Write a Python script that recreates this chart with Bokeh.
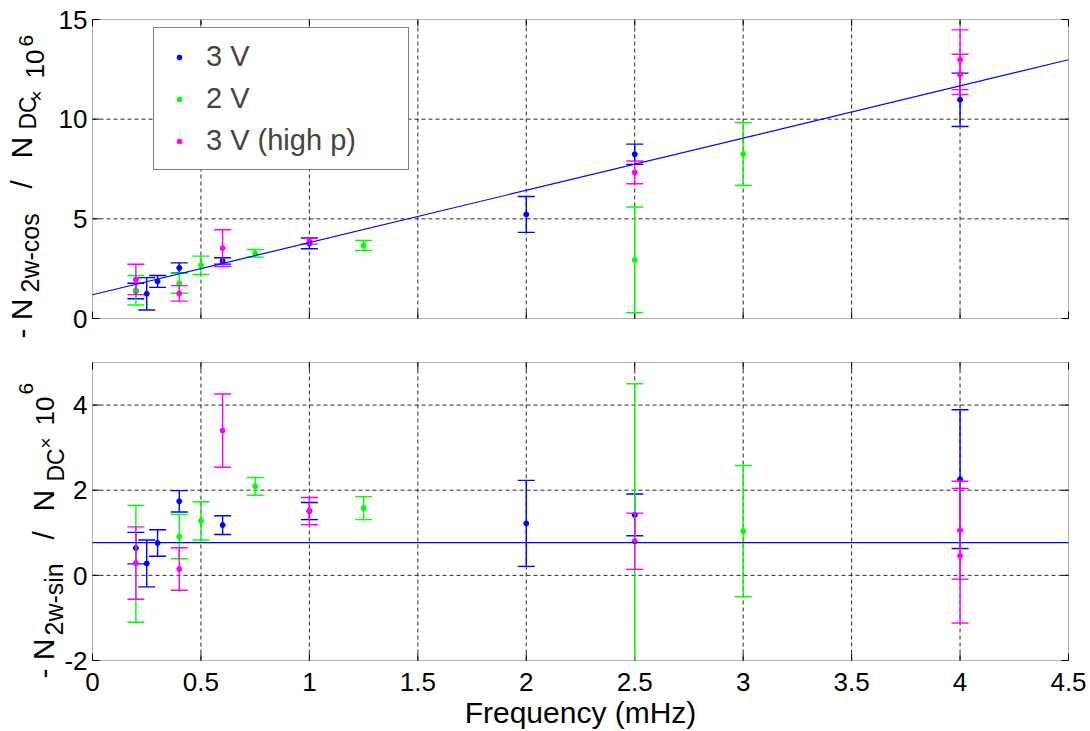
import math
from bokeh.plotting import figure
from bokeh.models import Range1d, Legend, LegendItem, BoxAnnotation
from bokeh.layouts import column
from bokeh.embed import file_html
from bokeh.resources import INLINE
from bokeh.core.properties import value

# ---------------- data ----------------
freq_3v = [0.2, 0.25, 0.3, 0.4, 0.6, 1.0, 2.0, 2.5, 4.0]
cos_3v = [1.38, 1.24, 1.86, 2.54, 2.89, 3.77, 5.22, 8.24, 10.97]
cos_err_3v = [0.39, 0.81, 0.30, 0.25, 0.16, 0.27, 0.90, 0.51, 1.34]
sin_3v = [0.64, 0.28, 0.76, 1.74, 1.18, 1.51, 1.22, 1.42, 2.26]
sin_err_3v = [0.37, 0.55, 0.31, 0.25, 0.22, 0.20, 1.01, 0.49, 1.63]

freq_2v = [0.2, 0.4, 0.5, 0.75, 1.25, 2.5, 3.0]
cos_2v = [1.42, 1.77, 2.67, 3.27, 3.66, 2.94, 8.25]
cos_err_2v = [0.74, 0.50, 0.46, 0.19, 0.25, 2.65, 1.58]
sin_2v = [0.27, 0.91, 1.28, 2.09, 1.58, 0.80, 1.04]
sin_err_2v = [1.37, 0.52, 0.45, 0.21, 0.27, 3.70, 1.54]

freq_hp = [0.2, 0.4, 0.6, 1.0, 2.5, 4.0, 4.0]
cos_hp = [1.96, 1.26, 3.53, 3.88, 7.33, 12.98, 12.25]
cos_err_hp = [0.76, 0.39, 0.92, 0.15, 0.57, 1.50, 1.01]
sin_hp = [0.29, 0.15, 3.40, 1.51, 0.80, 1.06, 0.46]
sin_err_hp = [0.85, 0.50, 0.86, 0.32, 0.66, 1.15, 1.58]

fit_x = [0.0, 4.5]
fit_cos = [1.19, 12.98]
fit_sin = [0.77, 0.77]

x_ticks = [0, 0.5, 1, 1.5, 2, 2.5, 3, 3.5, 4, 4.5]
x_tick_labels = ["0", "0.5", "1", "1.5", "2", "2.5", "3", "3.5", "4", "4.5"]
cos_ticks = [0, 5, 10, 15]
cos_tick_labels = ["0", "5", "10", "15"]
sin_ticks = [-2, 0, 2, 4]
sin_tick_labels = ["-2", "0", "2", "4"]
x_title = "Frequency (mHz)"

series_names = ["3 V", "2 V", "3 V (high p)"]
series_colors = ["#0000FF", "#00FF00", "#FF00FF"]

# ---------------- layout constants (pixels) ----------------
FONT = "Liberation Sans"
BL = 0.34                    # measured shift of the rendered alphabetic baseline (em)
W = 1090
FL, FR = 92, 1068            # frame left / right (page px)
XMIN, XMAX = 0.0, 4.5
XS = (FR - FL) / (XMAX - XMIN)

TOP_H, TOP_FT, TOP_FB = 340, 19, 318     # canvas height, frame top / bottom (local px)
BOT_H, BOT_FT, BOT_FB = 391, 22, 320
TOP_Y = (0.0, 15.0)
BOT_Y = (-2.0, 5.0)


def make_panel(h, ft, fb, yr):
    ys = (fb - ft) / (yr[1] - yr[0])
    p = figure(width=W, height=h,
               x_range=Range1d(XMIN - FL / XS, XMAX + (W - FR) / XS),
               y_range=Range1d(yr[0] - (h - fb) / ys, yr[1] + ft / ys),
               output_backend="svg", toolbar_location=None,
               x_axis_location=None, y_axis_location=None,
               min_border_left=0, min_border_right=0, min_border_top=0, min_border_bottom=0)
    p.outline_line_color = None
    p.xgrid.visible = False
    p.ygrid.visible = False
    p.background_fill_color = "white"
    p.border_fill_color = "white"
    return p, ys


def decorate(p, yr, yticks, ylabels):
    ymin, ymax = yr
    gx = [t for t in x_ticks if XMIN < t < XMAX]
    gy = [t for t in yticks if ymin < t < ymax]
    p.segment(x0=gx, y0=[ymin] * len(gx), x1=gx, y1=[ymax] * len(gx),
              line_color="black", line_dash="4 3", line_width=1, line_alpha=0.85)
    p.segment(x0=[XMIN] * len(gy), y0=gy, x1=[XMAX] * len(gy), y1=gy,
              line_color="black", line_dash="4 3", line_width=1, line_alpha=0.85)
    n, m = len(x_ticks), len(yticks)
    p.ray(x=x_ticks, y=[ymin] * n, length=7, length_units="screen", angle=math.pi / 2,
          line_color="black", line_width=1)
    p.ray(x=x_ticks, y=[ymax] * n, length=7, length_units="screen", angle=-math.pi / 2,
          line_color="black", line_width=1)
    p.ray(x=[XMIN] * m, y=yticks, length=7, length_units="screen", angle=0,
          line_color="black", line_width=1)
    p.ray(x=[XMAX] * m, y=yticks, length=7, length_units="screen", angle=math.pi,
          line_color="black", line_width=1)
    p.text(x=[XMIN] * m, y=yticks, text=ylabels, x_offset=-5, y_offset=9 - BL * 26,
           text_align="right", text_baseline="alphabetic",
           text_font=value(FONT), text_font_size="26px", text_color="black")
    p.add_layout(BoxAnnotation(left=XMIN, right=XMAX, bottom=ymin, top=ymax,
                               fill_color=None, line_color="black", line_width=1))


def draw_series(p, xs, ys, errs, color, ymin):
    lo = [max(y - e, ymin) for y, e in zip(ys, errs)]
    hi = [y + e for y, e in zip(ys, errs)]
    p.segment(x0=xs, y0=lo, x1=xs, y1=hi, line_color=color, line_width=1.4)
    lo_x = [x for x, y, e in zip(xs, ys, errs) if y - e >= ymin]
    lo_y = [y - e for y, e in zip(ys, errs) if y - e >= ymin]
    p.scatter(lo_x, lo_y, marker="dash", size=17, line_color=color, line_width=1.4)
    p.scatter(xs, hi, marker="dash", size=17, line_color=color, line_width=1.4)
    return p.scatter(xs, ys, marker="circle", size=5, fill_color=color, line_color=color)


def ylabel(p, pieces, fb_page, ymin, ys):
    for text, px, py, size in pieces:
        p.text(x=[(px - BL * size - FL) / XS], y=[ymin + (fb_page - py) / ys], text=[text],
               angle=math.pi / 2, text_align="left", text_baseline="alphabetic",
               text_font=value(FONT), text_font_size=f"{size}px", text_color="black")


# ---------------- top panel ----------------
top, TS = make_panel(TOP_H, TOP_FT, TOP_FB, TOP_Y)
decorate(top, TOP_Y, cos_ticks, cos_tick_labels)
pts = []
for xs, ys, es, c in ((freq_3v, cos_3v, cos_err_3v, series_colors[0]),
                      (freq_2v, cos_2v, cos_err_2v, series_colors[1]),
                      (freq_hp, cos_hp, cos_err_hp, series_colors[2])):
    pts.append(draw_series(top, xs, ys, es, c, TOP_Y[0]))
top.line(fit_x, fit_cos, line_color="#0000FF", line_width=1.2)

ylabel(top, [("- N", 31, 338, 30), ("2w-cos", 38, 292, 25), ("/", 31, 188, 30),
             ("N", 31, 158, 30), ("DC", 35, 129, 23), ("\u00d7", 42, 101, 19),
             ("10", 43, 78, 26), ("6", 33, 46, 21)], TOP_FB, TOP_Y[0], TS)

LEG_PAD, LEG_ITEM, LEG_SP = 12, 33, 9
leg_h = 2 * LEG_PAD + 3 * LEG_ITEM + 2 * LEG_SP
legend = Legend(items=[LegendItem(label=n, renderers=[r]) for n, r in zip(series_names, pts)],
                location=(153, TOP_H - 29 - leg_h))
legend.label_text_font = FONT
legend.label_text_font_size = "29px"
legend.label_height = 30
legend.glyph_height = 12
legend.glyph_width = 26
legend.label_standoff = 14
legend.label_width = 190
legend.spacing = LEG_SP
legend.padding = LEG_PAD
legend.margin = 0
legend.border_line_color = "black"
legend.border_line_width = 1
legend.background_fill_color = "white"
legend.background_fill_alpha = 1
top.add_layout(legend)

# ---------------- bottom panel ----------------
bot, BS = make_panel(BOT_H, BOT_FT, BOT_FB, BOT_Y)
decorate(bot, BOT_Y, sin_ticks, sin_tick_labels)
for xs, ys, es, c in ((freq_3v, sin_3v, sin_err_3v, series_colors[0]),
                      (freq_2v, sin_2v, sin_err_2v, series_colors[1]),
                      (freq_hp, sin_hp, sin_err_hp, series_colors[2])):
    draw_series(bot, xs, ys, es, c, BOT_Y[0])
bot.line(fit_x, fit_sin, line_color="#0000FF", line_width=1.2)

bot.text(x=x_ticks, y=[BOT_Y[0]] * len(x_ticks), text=x_tick_labels, y_offset=30 - BL * 26,
         text_align="center", text_baseline="alphabetic",
         text_font=value(FONT), text_font_size="26px", text_color="black")
bot.text(x=[(XMIN + XMAX) / 2], y=[BOT_Y[0]], text=[x_title], y_offset=62 - BL * 30,
         text_align="center", text_baseline="alphabetic",
         text_font=value(FONT), text_font_size="30px", text_color="black")

ylabel(bot, [("- N", 53, 678, 30), ("2w-sin", 62, 635, 25), ("/", 53, 539, 30),
             ("N", 53, 511, 30), ("DC", 63, 481, 23), ("\u00d7", 51, 448, 19),
             ("10", 53, 425, 26), ("6", 33, 394, 21)], 660, BOT_Y[0], BS)

layout = column(top, bot, spacing=0)
open("out.html", "w").write(file_html(layout, INLINE))
